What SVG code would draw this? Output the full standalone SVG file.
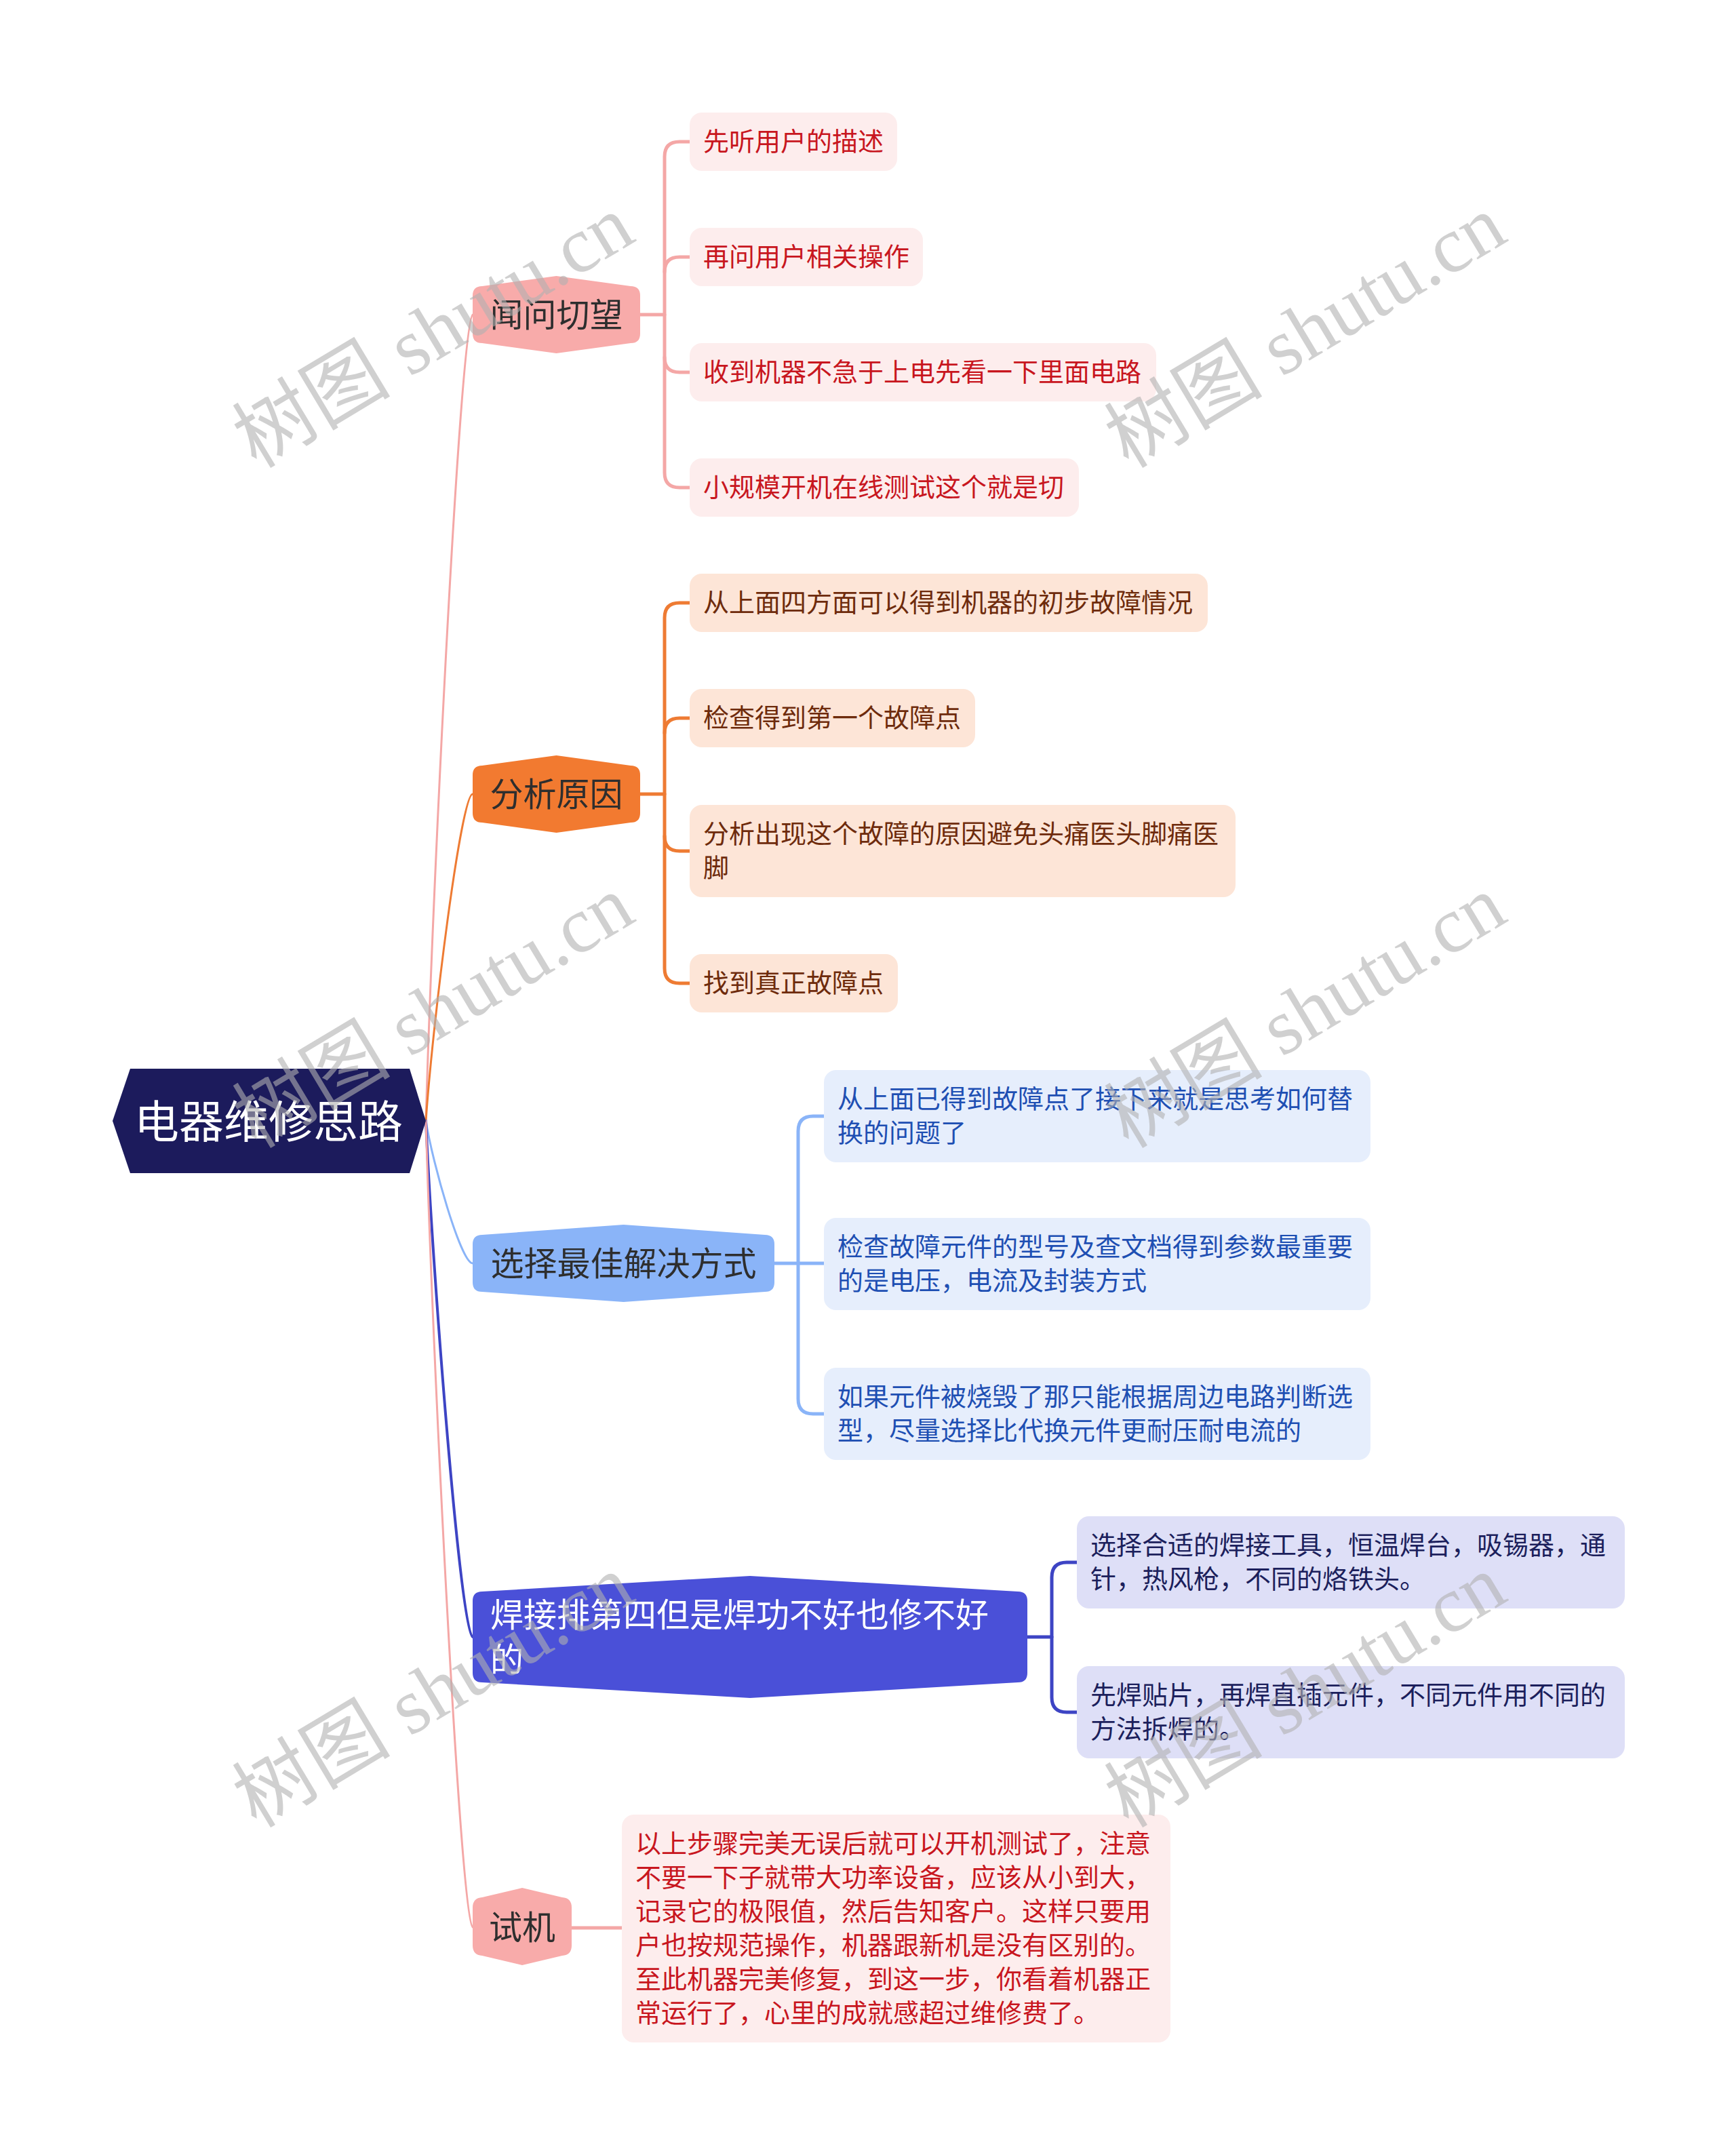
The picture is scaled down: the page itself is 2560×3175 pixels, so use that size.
<svg xmlns="http://www.w3.org/2000/svg" width="2560" height="3175" viewBox="0 0 2560 3175">
<style>
text{font-family:"Noto Sans CJK SC","Noto Sans",sans-serif;dominant-baseline:central}
.l1{font-size:49px;fill:#2e2e2e;text-anchor:middle}
.c{font-size:38px}
.ra{fill:#FDEDED}.ta{fill:#C8161E}
.rb{fill:#FDE5D7}.tb{fill:#6E2B0C}
.rc{fill:#E6EEFC}.tc{fill:#1E4FB3}
.rd{fill:#DEDFF7}.td{fill:#1C1F5C}
.cn{fill:none;stroke-linecap:round;stroke-linejoin:round}
.wm{font-family:"Liberation Serif","Noto Sans CJK SC",serif;font-size:117px;fill:#b0b0b0;fill-opacity:0.6;dominant-baseline:alphabetic}
</style>
<rect width="2560" height="3175" fill="#ffffff"/>
<g id="connectors">
<path class="cn" stroke="#F4A7A6" stroke-width="3" d="M628,1653 C638,1296 680,464 697,464"/>
<path class="cn" stroke="#EE7B33" stroke-width="3" d="M628,1653 C638,1508 680,1171 697,1171"/>
<path class="cn" stroke="#8AB4F8" stroke-width="3" d="M628,1653 C638,1716 680,1863 697,1863"/>
<path class="cn" stroke="#3D44C4" stroke-width="4" d="M628,1653 C638,1881 680,2414 697,2414"/>
<path class="cn" stroke="#F4A7A6" stroke-width="3" d="M628,1653 C638,2010 680,2842 697,2842"/>
<g stroke="#F4A7A6" stroke-width="5" class="cn">
<path d="M944,464 H980"/>
<path d="M1017,209 H1002 Q980,209 980,231 V697 Q980,719 1002,719 H1017"/>
<path d="M980,401 Q980,379 1002,379 H1017"/>
<path d="M980,527 Q980,549 1002,549 H1017"/>
</g>
<g stroke="#EE7B33" stroke-width="5" class="cn">
<path d="M944,1171 H980"/>
<path d="M1017,889 H1002 Q980,889 980,911 V1428 Q980,1450 1002,1450 H1017"/>
<path d="M980,1081 Q980,1059 1002,1059 H1017"/>
<path d="M980,1233 Q980,1255 1002,1255 H1017"/>
</g>
<g stroke="#8AB4F8" stroke-width="5" class="cn">
<path d="M1142,1863 H1215"/>
<path d="M1215,1646 H1199 Q1177,1646 1177,1668 V2063 Q1177,2085 1199,2085 H1215"/>
</g>
<g stroke="#3D44C4" stroke-width="5" class="cn">
<path d="M1515,2414 H1551"/>
<path d="M1588,2304 H1573 Q1551,2304 1551,2326 V2503 Q1551,2525 1573,2525 H1588"/>
</g>
<path class="cn" stroke="#F4A7A6" stroke-width="5" d="M843,2843 H917"/>
</g>
<g id="root">
<polygon points="166,1653 192,1576 604,1576 628,1653 604,1730 192,1730" fill="#1C1B5C"/>
<text x="396" y="1649" font-size="66" fill="#ffffff" text-anchor="middle">电器维修思路</text>
</g>
<g id="n-wenwen">
<path fill="#F8ABAA" d="M697,436 Q697,422 711,422 L820.5,407 L930,422 Q944,422 944,436 L944,492 Q944,506 930,506 L820.5,521 L711,506 Q697,506 697,492 Z"/>
<text class="l1" x="820.5" y="460">闻问切望</text>
</g>
<g id="n-fenxi">
<path fill="#F27A30" d="M697,1143 Q697,1129 711,1129 L820.5,1114 L930,1129 Q944,1129 944,1143 L944,1199 Q944,1213 930,1213 L820.5,1228 L711,1213 Q697,1213 697,1199 Z"/>
<text class="l1" x="820.5" y="1167">分析原因</text>
</g>
<g id="n-xuanze">
<path fill="#8AB4F8" d="M697,1835 Q697,1821 711,1821 L919.5,1806 L1128,1821 Q1142,1821 1142,1835 L1142,1891 Q1142,1905 1128,1905 L919.5,1920 L711,1905 Q697,1905 697,1891 Z"/>
<text class="l1" x="919.5" y="1859">选择最佳解决方式</text>
</g>
<g id="n-hanjie">
<path fill="#4A50D8" d="M697,2361 Q697,2347 711,2347 L1106,2324 L1501,2347 Q1515,2347 1515,2361 L1515,2467 Q1515,2481 1501,2481 L1106,2504 L711,2481 Q697,2481 697,2467 Z"/>
<text class="l1" x="723" y="2377" style="fill:#ffffff;text-anchor:start">焊接排第四但是焊功不好也修不好</text>
<text class="l1" x="723" y="2443" style="fill:#ffffff;text-anchor:start">的</text>
</g>
<g id="n-shiji">
<path fill="#F8ABAA" d="M697,2813 Q697,2799 711,2798 L770,2784 L829,2798 Q843,2799 843,2813 L843,2869 Q843,2883 829,2884 L770,2898 L711,2884 Q697,2883 697,2869 Z"/>
<text class="l1" x="770" y="2838">试机</text>
</g>
<g id="a1"><rect class="ra" x="1017" y="166" width="306" height="86" rx="18"/><text class="c ta" x="1037" y="205">先听用户的描述</text></g>
<g id="a2"><rect class="ra" x="1017" y="336" width="344" height="86" rx="18"/><text class="c ta" x="1037" y="375">再问用户相关操作</text></g>
<g id="a3"><rect class="ra" x="1017" y="506" width="688" height="86" rx="18"/><text class="c ta" x="1037" y="545">收到机器不急于上电先看一下里面电路</text></g>
<g id="a4"><rect class="ra" x="1017" y="676" width="574" height="86" rx="18"/><text class="c ta" x="1037" y="715">小规模开机在线测试这个就是切</text></g>
<g id="b1"><rect class="rb" x="1017" y="846" width="764" height="86" rx="18"/><text class="c tb" x="1037" y="885">从上面四方面可以得到机器的初步故障情况</text></g>
<g id="b2"><rect class="rb" x="1017" y="1016" width="421" height="86" rx="18"/><text class="c tb" x="1037" y="1055">检查得到第一个故障点</text></g>
<g id="b3"><rect class="rb" x="1017" y="1187" width="805" height="136" rx="18"/><text class="c tb" x="1037" y="1226">分析出现这个故障的原因避免头痛医头脚痛医</text><text class="c tb" x="1037" y="1276">脚</text></g>
<g id="b4"><rect class="rb" x="1017" y="1407" width="307" height="86" rx="18"/><text class="c tb" x="1037" y="1446">找到真正故障点</text></g>
<g id="c1"><rect class="rc" x="1215" y="1578" width="806" height="136" rx="18"/><text class="c tc" x="1235" y="1617">从上面已得到故障点了接下来就是思考如何替</text><text class="c tc" x="1235" y="1667">换的问题了</text></g>
<g id="c2"><rect class="rc" x="1215" y="1796" width="806" height="136" rx="18"/><text class="c tc" x="1235" y="1835">检查故障元件的型号及查文档得到参数最重要</text><text class="c tc" x="1235" y="1885">的是电压，电流及封装方式</text></g>
<g id="c3"><rect class="rc" x="1215" y="2017" width="806" height="136" rx="18"/><text class="c tc" x="1235" y="2056">如果元件被烧毁了那只能根据周边电路判断选</text><text class="c tc" x="1235" y="2106">型，尽量选择比代换元件更耐压耐电流的</text></g>
<g id="d1"><rect class="rd" x="1588" y="2236" width="808" height="136" rx="18"/><text class="c td" x="1608" y="2275">选择合适的焊接工具，恒温焊台，吸锡器，通</text><text class="c td" x="1608" y="2325">针，热风枪，不同的烙铁头。</text></g>
<g id="d2"><rect class="rd" x="1588" y="2457" width="808" height="136" rx="18"/><text class="c td" x="1608" y="2496">先焊贴片，再焊直插元件，不同元件用不同的</text><text class="c td" x="1608" y="2546">方法拆焊的。</text></g>
<g id="e1"><rect class="ra" x="917" y="2676" width="809" height="336" rx="18"/>
<text class="c ta" x="937" y="2715">以上步骤完美无误后就可以开机测试了，注意</text>
<text class="c ta" x="937" y="2765">不要一下子就带大功率设备，应该从小到大，</text>
<text class="c ta" x="937" y="2815">记录它的极限值，然后告知客户。这样只要用</text>
<text class="c ta" x="937" y="2865">户也按规范操作，机器跟新机是没有区别的。</text>
<text class="c ta" x="937" y="2915">至此机器完美修复，到这一步，你看着机器正</text>
<text class="c ta" x="937" y="2965">常运行了，心里的成就感超过维修费了。</text>
</g>
<g id="watermarks">
<text class="wm" transform="translate(378,692) rotate(-31)">树图 shutu.cn</text>
<text class="wm" transform="translate(1664,692) rotate(-31)">树图 shutu.cn</text>
<text class="wm" transform="translate(378,1695) rotate(-31)">树图 shutu.cn</text>
<text class="wm" transform="translate(1664,1695) rotate(-31)">树图 shutu.cn</text>
<text class="wm" transform="translate(378,2697) rotate(-31)">树图 shutu.cn</text>
<text class="wm" transform="translate(1664,2697) rotate(-31)">树图 shutu.cn</text>
</g>
</svg>
